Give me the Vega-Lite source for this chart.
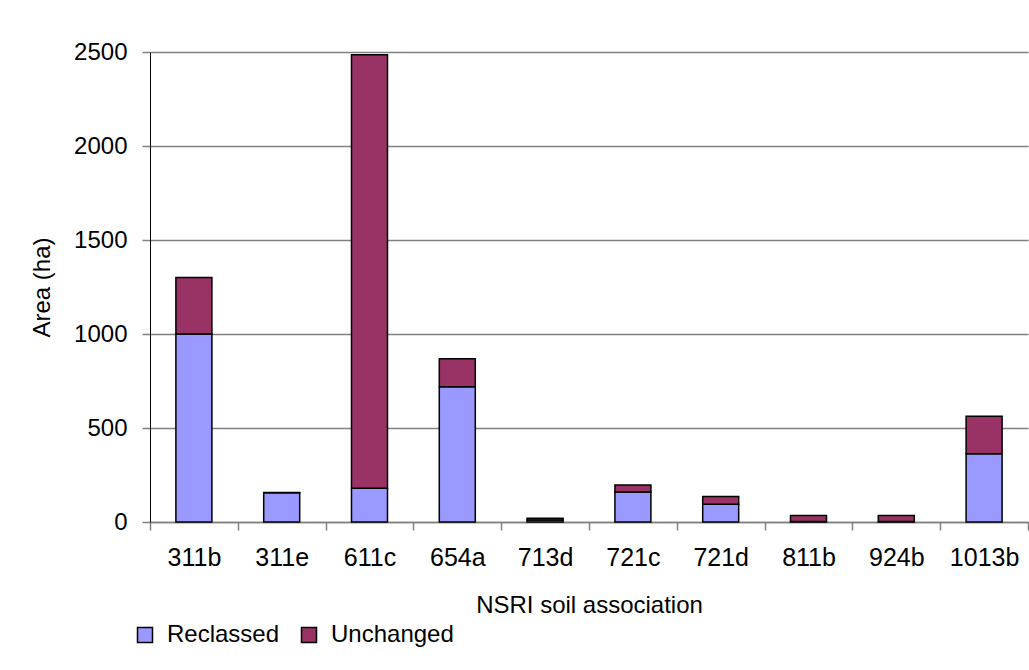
{
  "$schema": "https://vega.github.io/schema/vega-lite/v6.json",
  "autosize": {"type": "none"},
  "width": 878,
  "height": 470,
  "padding": {"left": 150, "top": 52, "right": 1, "bottom": 148},
  "background": "white",
  "config": {"font": "Liberation Sans", "view": {"stroke": null}},
  "data": {
    "values": [
      {"association": "311b", "status": "Reclassed", "area": 1000},
      {"association": "311b", "status": "Unchanged", "area": 300},
      {"association": "311e", "status": "Reclassed", "area": 155},
      {"association": "311e", "status": "Unchanged", "area": 2},
      {"association": "611c", "status": "Reclassed", "area": 180},
      {"association": "611c", "status": "Unchanged", "area": 2305},
      {"association": "654a", "status": "Reclassed", "area": 720},
      {"association": "654a", "status": "Unchanged", "area": 148},
      {"association": "713d", "status": "Reclassed", "area": 10},
      {"association": "713d", "status": "Unchanged", "area": 10},
      {"association": "721c", "status": "Reclassed", "area": 160},
      {"association": "721c", "status": "Unchanged", "area": 37},
      {"association": "721d", "status": "Reclassed", "area": 94},
      {"association": "721d", "status": "Unchanged", "area": 42},
      {"association": "811b", "status": "Reclassed", "area": 3},
      {"association": "811b", "status": "Unchanged", "area": 32},
      {"association": "924b", "status": "Reclassed", "area": 3},
      {"association": "924b", "status": "Unchanged", "area": 32},
      {"association": "1013b", "status": "Reclassed", "area": 363},
      {"association": "1013b", "status": "Unchanged", "area": 200}
    ]
  },
  "mark": {"type": "bar", "width": {"band": 0.41}, "stroke": "black", "strokeWidth": 1.5},
  "encoding": {
    "x": {
      "field": "association",
      "type": "nominal",
      "sort": null,
      "scale": {"paddingInner": 0, "paddingOuter": 0},
      "axis": {
        "title": "NSRI soil association",
        "titleFontSize": 24,
        "titleFontWeight": "normal",
        "titleColor": "black",
        "titleBaseline": "alphabetic",
        "titleY": 90,
        "labelAngle": 0,
        "labelFontSize": 25,
        "labelColor": "black",
        "labelPadding": 15,
        "tickBand": "extent",
        "tickSize": 8,
        "tickColor": "#808080",
        "tickWidth": 1.5,
        "domainColor": "#808080",
        "domainWidth": 1.5
      }
    },
    "y": {
      "field": "area",
      "type": "quantitative",
      "stack": "zero",
      "scale": {"domain": [0, 2500]},
      "axis": {
        "title": "Area (ha)",
        "titleFontSize": 24,
        "titleFontWeight": "normal",
        "titleColor": "black",
        "titleX": -108,
        "titleY": 235,
        "titleAlign": "center",
        "titleBaseline": "middle",
        "values": [0, 500, 1000, 1500, 2000, 2500],
        "format": "d",
        "labelFontSize": 24,
        "labelColor": "black",
        "labelPadding": 15,
        "tickSize": 8,
        "tickColor": "#808080",
        "tickWidth": 1.5,
        "domainColor": "black",
        "domainWidth": 1,
        "grid": true,
        "gridColor": "#808080",
        "gridWidth": 1.5
      }
    },
    "color": {
      "field": "status",
      "type": "nominal",
      "scale": {"domain": ["Reclassed", "Unchanged"], "range": ["#9999FF", "#993366"]},
      "legend": {
        "orient": "none",
        "legendX": -17,
        "legendY": 571,
        "direction": "horizontal",
        "title": null,
        "labelFontSize": 24,
        "labelColor": "black",
        "symbolType": "square",
        "symbolSize": 225,
        "symbolStrokeColor": "black",
        "symbolStrokeWidth": 1.5,
        "symbolOpacity": 1,
        "labelOffset": 10,
        "columnPadding": 17,
        "padding": 0
      }
    },
    "order": {"field": "status", "sort": "ascending"}
  }
}
